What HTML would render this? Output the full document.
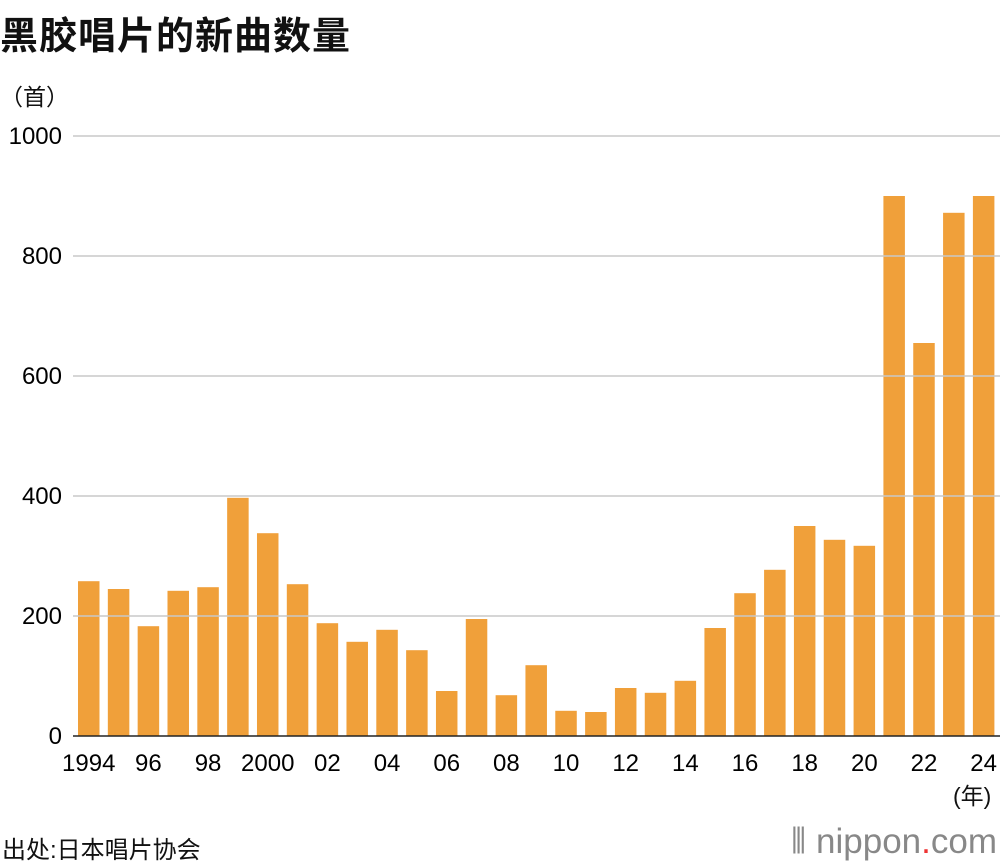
<!DOCTYPE html>
<html><head><meta charset="utf-8">
<style>
body{margin:0;width:1000px;height:866px;background:#fff;font-family:"Liberation Sans","Noto Sans CJK SC",sans-serif;color:#111;overflow:hidden;position:relative}
.t{position:absolute;white-space:nowrap}
</style></head><body>
<div class="t" style="left:0px;top:5px;font-size:38px;font-weight:bold;letter-spacing:1px">黑胶唱片的新曲数量</div>
<div class="t" style="left:0px;top:78px;font-size:23px">（首）</div>
<svg id="c" width="1000" height="866" style="position:absolute;left:0;top:0"></svg>
<div class="t" style="left:953px;top:777px;font-size:23px">(年)</div>
<div class="t" style="left:2px;top:830px;font-size:24px">出处:日本唱片协会</div>
<div class="t" style="right:3px;top:822px;font-size:35px;color:#888">⦀ nippon<span style="color:#e33">.</span>com</div>
<script>
const years=[1994,1995,1996,1997,1998,1999,2000,2001,2002,2003,2004,2005,2006,2007,2008,2009,2010,2011,2012,2013,2014,2015,2016,2017,2018,2019,2020,2021,2022,2023,2024];
const values=[258,245,183,242,248,397,338,253,188,157,177,143,75,195,68,118,42,40,80,72,92,180,238,277,350,327,317,900,655,872,900];
const yTicks=[0,200,400,600,800,1000];
const xTickLabels=["1994","96","98","2000","02","04","06","08","10","12","14","16","18","20","22","24"];
const svg=document.getElementById('c');
const NS='http://www.w3.org/2000/svg';
const y=v=>736-v*0.6;
const x=i=>78+i*29.83;
const bw=21.5;
yTicks.forEach(t=>{
  const l=document.createElementNS(NS,'line');
  
  
  l.setAttribute('x1',73);l.setAttribute('x2',1000);l.setAttribute('y1',y(t));l.setAttribute('y2',y(t));
  l.setAttribute('stroke',t===0?'#222':'#c8c8c8');l.setAttribute('stroke-width',1.5);
  svg.appendChild(l);
  const tx=document.createElementNS(NS,'text');
  
  
  tx.setAttribute('x',62);tx.setAttribute('y',y(t)+8);tx.setAttribute('text-anchor','end');
  tx.setAttribute('font-size','24');tx.setAttribute('font-family','Liberation Sans, sans-serif');
  tx.textContent=t;svg.appendChild(tx);
});
values.forEach((v,i)=>{
  const r=document.createElementNS(NS,'rect');
  
  
  r.setAttribute('x',x(i));r.setAttribute('y',y(v));r.setAttribute('width',bw);r.setAttribute('height',736-y(v));
  r.setAttribute('fill','#f0a03a');svg.insertBefore(r,svg.firstChild);
});
xTickLabels.forEach((s,k)=>{
  const tx=document.createElementNS(NS,'text');
  
  
  tx.setAttribute('x',x(k*2)+bw/2);tx.setAttribute('y',771);tx.setAttribute('text-anchor','middle');
  tx.setAttribute('font-size','24');tx.setAttribute('font-family','Liberation Sans, sans-serif');
  tx.textContent=s;svg.appendChild(tx);
});
</script>
</body></html>
